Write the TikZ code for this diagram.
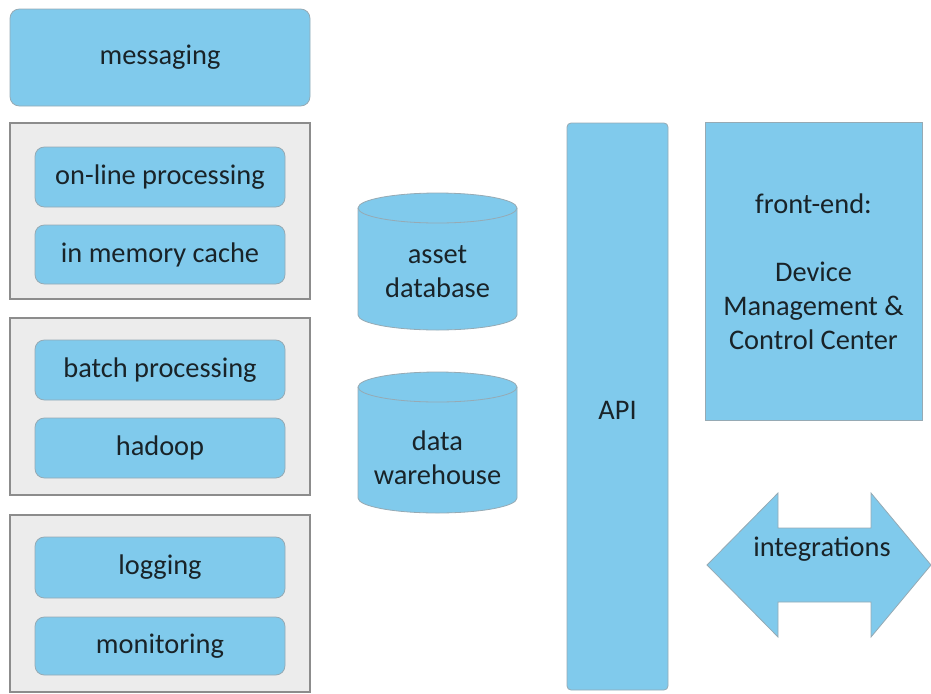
\documentclass[tikz,border=0pt]{standalone}
\usepackage{fontspec}
\setmainfont{Carlito}
\definecolor{boxblue}{RGB}{128,202,236}
\definecolor{boxline}{RGB}{150,170,180}
\definecolor{groupfill}{RGB}{236,236,236}
\definecolor{groupline}{RGB}{140,140,140}
\definecolor{txt}{RGB}{25,35,40}
\tikzset{every picture/.style={line width=0.75pt}}
\tikzset{
  bluebox/.style={draw=boxline, fill=boxblue, line width=0.6pt, rounded corners=7pt},
  groupbox/.style={draw=groupline, fill=groupfill, line width=0.9pt},
  label/.style={inner sep=0.75pt, text=txt, font=\fontsize{21.3}{25.5}\selectfont, align=center}
}

\begin{document}
\begin{tikzpicture}[x=0.75pt,y=0.75pt,yscale=-1,xscale=1]
\useasboundingbox (0,0) rectangle (931,693);

%Rounded Rect [messaging]
\draw [bluebox] (10,9) rectangle (310,106) ;

%Group Rects
\draw [groupbox] (10,123) rectangle (310,299) ;
\draw [groupbox] (10,318) rectangle (310,495) ;
\draw [groupbox] (10,515) rectangle (310,692) ;

%Rounded Rects inside groups
\draw [bluebox] (35,147) rectangle (285,207) ;
\draw [bluebox] (35,225) rectangle (285,284) ;
\draw [bluebox] (35,340) rectangle (285,400) ;
\draw [bluebox] (35,418) rectangle (285,478) ;
\draw [bluebox] (35,537) rectangle (285,598) ;
\draw [bluebox] (35,617) rectangle (285,675) ;

%Can [asset database]
\draw [bluebox, rounded corners=0pt] (358,208) -- (358,315) arc [start angle=180, end angle=0, x radius=79.5, y radius=15] -- (517,208) arc [start angle=0, end angle=-180, x radius=79.5, y radius=15] -- cycle ;
\draw [boxline, line width=0.6pt] (358,208) arc [start angle=180, end angle=0, x radius=79.5, y radius=15] ;
%Can [data warehouse]
\draw [bluebox, rounded corners=0pt] (358,387) -- (358,498) arc [start angle=180, end angle=0, x radius=79.5, y radius=15] -- (517,387) arc [start angle=0, end angle=-180, x radius=79.5, y radius=15] -- cycle ;
\draw [boxline, line width=0.6pt] (358,387) arc [start angle=180, end angle=0, x radius=79.5, y radius=15] ;

%Rounded Rect [API]
\draw [bluebox, rounded corners=3pt] (567,123) rectangle (668,690) ;
%Rect [front-end]
\draw [bluebox, rounded corners=0pt] (705,122) rectangle (922,420) ;

%Left Right Arrow [integrations]
\draw [bluebox, rounded corners=0pt] (707,565) -- (778,493) -- (778,528) -- (871,528) -- (871,493) -- (931,565) -- (871,637) -- (871,602) -- (778,602) -- (778,637) -- cycle ;

% Text Node
\node [label] (messaging) at (160,57.5) {messaging};
% Text Node
\node [label] (online) at (160,177) {on-line processing};
% Text Node
\node [label] (cache) at (160,254.5) {in memory cache};
% Text Node
\node [label] (batch) at (160,370) {batch processing};
% Text Node
\node [label] (hadoop) at (160,448) {hadoop};
% Text Node
\node [label] (logging) at (160,567.5) {logging};
% Text Node
\node [label] (monitoring) at (160,646) {monitoring};
% Text Node
\node [label] (assetdb) at (437.5,272) {asset\\database};
% Text Node
\node [label] (warehouse) at (437.5,458) {data\\warehouse};
% Text Node
\node [label] (api) at (617.5,410) {API};
% Text Node
\node [label] (frontend) at (813.5,271.5) {front-end:\\[25.5pt]Device\\Management \&\\Control Center};
% Text Node
\node [label] (integrations) at (822,549) {integrations};

\end{tikzpicture}
\end{document}
